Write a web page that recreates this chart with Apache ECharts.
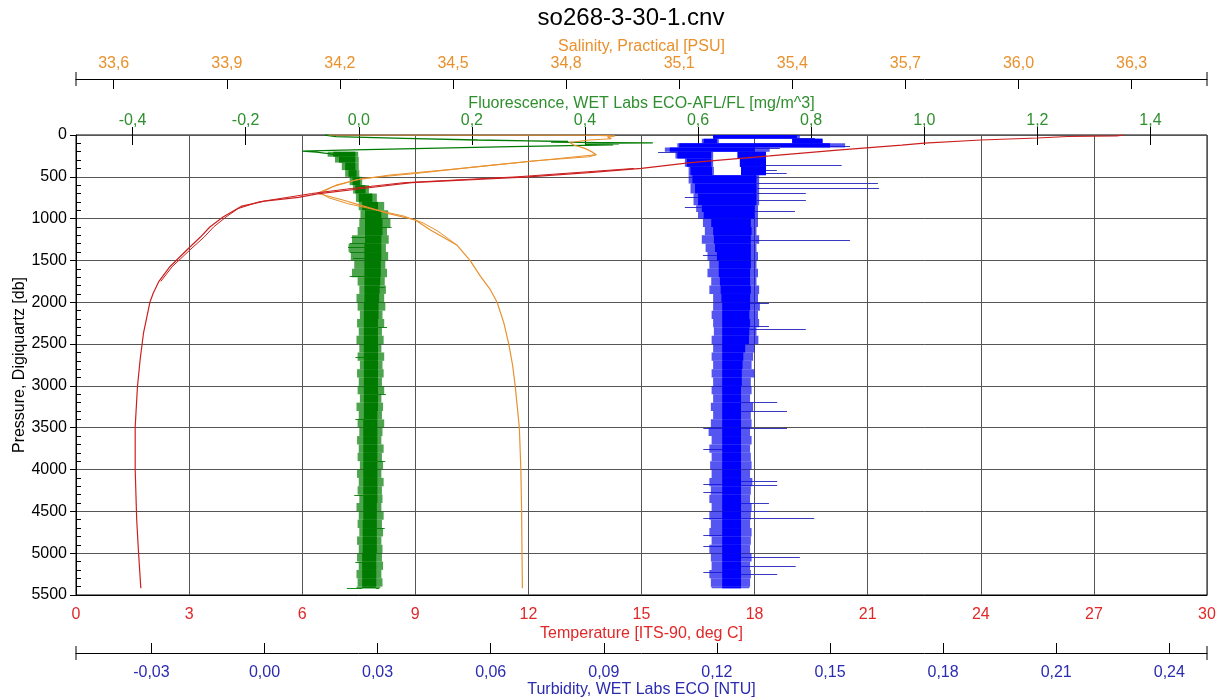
<!DOCTYPE html>
<html><head><meta charset="utf-8">
<script src="https://cdn.jsdelivr.net/npm/echarts@6/dist/echarts.min.js"></script>
<style>html,body{margin:0;padding:0;background:#fff}#c{width:1221px;height:698px}</style>
</head><body><div id="c"></div>
<script>
// ---------------- DATA ----------------
const titleText = 'so268-3-30-1.cnv';
const salTicks = [33.6, 33.9, 34.2, 34.5, 34.8, 35.1, 35.4, 35.7, 36.0, 36.3];
const fluorTicks = [-0.4, -0.2, 0.0, 0.2, 0.4, 0.6, 0.8, 1.0, 1.2, 1.4];
const turbTicks = [-0.03, 0.00, 0.03, 0.06, 0.09, 0.12, 0.15, 0.18, 0.21, 0.24];

// Temperature [deg C] vs pressure [db] (downcast and partial upcast)
const tempP = [0, 10, 18, 36, 60, 96, 120, 180, 250, 330, 400, 450, 500, 570, 640, 705, 745, 790, 850, 980, 1100, 1220, 1375, 1575, 1750, 1890, 2000, 2370, 2690, 3010, 3490, 4000, 4600, 5000, 5420];
const tempV = [27.8, 27.6, 26.3, 25.5, 24.0, 22.5, 21.9, 20.2, 18.4, 16.3, 15.0, 13.6, 12.0, 8.9, 7.6, 6.4, 5.9, 5.0, 4.4, 3.9, 3.55, 3.3, 2.94, 2.49, 2.2, 2.05, 1.96, 1.79, 1.70, 1.63, 1.57, 1.57, 1.61, 1.66, 1.72];
const tempUpP = [400, 500, 570, 640, 700, 750, 800, 880, 980, 1100, 1220, 1375, 1575, 1750];
const tempUpV = [14.8, 11.7, 8.7, 7.3, 6.25, 5.55, 4.85, 4.3, 3.98, 3.65, 3.40, 3.02, 2.55, 2.25];

// Salinity [PSU]
const salP = [0, 2, 10, 25, 45, 60, 90, 120, 160, 205, 235, 260, 311, 380, 460, 520, 600, 697, 780, 860, 940, 1016, 1136, 1315, 1500, 1690, 1850, 2000, 2250, 2500, 2750, 3000, 3500, 4000, 4500, 5000, 5420];
const salV = [34.17, 34.86, 34.93, 34.91, 34.92, 34.86, 34.81, 34.82, 34.85, 34.87, 34.88, 34.86, 34.71, 34.56, 34.40, 34.26, 34.19, 34.14, 34.21, 34.27, 34.33, 34.40, 34.44, 34.51, 34.545, 34.573, 34.599, 34.617, 34.635, 34.648, 34.658, 34.665, 34.676, 34.680, 34.682, 34.683, 34.684];
const salUpP = [235, 300, 400, 480, 540, 620, 697, 750, 820, 900, 970, 1050, 1150, 1315];
const salUpV = [34.88, 34.74, 34.52, 34.33, 34.24, 34.18, 34.15, 34.17, 34.22, 34.30, 34.37, 34.42, 34.46, 34.51];

// Fluorescence [mg/m^3]: near-surface trace
const fluorLineP = [0, 20, 40, 60, 70, 78, 85, 90, 95, 100, 105, 110, 118, 140, 160, 180, 192, 205, 225, 250];
const fluorLineV = [-0.06, -0.04, 0.08, 0.21, 0.30, 0.37, 0.34, 0.43, 0.52, 0.44, 0.46, 0.40, 0.45, 0.27, 0.12, -0.03, -0.10, -0.075, -0.05, -0.03];
// Fluorescence noisy band: row tops, outer low, core low, core high, outer high
const fluorRowP  = [200, 260, 330, 420, 500, 600, 700, 800, 900, 1000, 1100, 1200, 1300, 1400, 1500, 1600, 1700, 1800, 1900, 2000, 2100, 2200, 2300, 2400, 2500, 2600, 2700, 2800, 2900, 3000, 3100, 3200, 3300, 3400, 3500, 3600, 3700, 3800, 3900, 4000, 4100, 4200, 4300, 4400, 4500, 4600, 4700, 4800, 4900, 5000, 5100, 5200, 5300, 5400];
const fluorFrLo  = [-0.055, -0.042, -0.030, -0.024, -0.016, -0.010, -0.005, 0.000, 0.003, 0.001, -0.002, -0.012, -0.018, -0.014, -0.008, -0.012, -0.002, 0.001, -0.004, -0.002, 0.002, -0.003, 0.000, -0.004, 0.001, -0.002, 0.002, -0.003, 0.000, -0.002, 0.002, -0.004, 0.000, -0.002, 0.001, -0.003, 0.000, -0.002, 0.002, -0.003, 0.000, -0.002, 0.001, -0.004, 0.000, -0.002, 0.001, -0.003, 0.000, -0.003, 0.000, -0.004, -0.002, -0.004];
const fluorCoLo  = [-0.045, -0.035, -0.024, -0.018, -0.011, -0.006, 0.000, 0.006, 0.011, 0.011, 0.011, 0.011, 0.010, 0.010, 0.010, 0.010, 0.010, 0.010, 0.010, 0.009, 0.009, 0.009, 0.009, 0.009, 0.009, 0.009, 0.009, 0.009, 0.009, 0.009, 0.009, 0.009, 0.009, 0.008, 0.008, 0.008, 0.008, 0.008, 0.008, 0.008, 0.008, 0.008, 0.008, 0.008, 0.008, 0.007, 0.007, 0.007, 0.007, 0.006, 0.006, 0.006, 0.006, 0.006];
const fluorCoHi  = [-0.006, -0.006, -0.006, -0.004, 0.002, 0.012, 0.024, 0.034, 0.040, 0.042, 0.042, 0.040, 0.040, 0.040, 0.039, 0.039, 0.038, 0.037, 0.036, 0.035, 0.035, 0.034, 0.034, 0.034, 0.034, 0.034, 0.034, 0.034, 0.034, 0.034, 0.034, 0.034, 0.033, 0.033, 0.033, 0.033, 0.033, 0.033, 0.033, 0.033, 0.033, 0.033, 0.033, 0.032, 0.032, 0.032, 0.032, 0.032, 0.032, 0.031, 0.031, 0.031, 0.031, 0.030];
const fluorFrHi  = [-0.001, 0.000, 0.000, 0.001, 0.006, 0.018, 0.032, 0.045, 0.052, 0.056, 0.050, 0.053, 0.048, 0.052, 0.047, 0.050, 0.046, 0.048, 0.045, 0.047, 0.042, 0.045, 0.041, 0.044, 0.040, 0.045, 0.042, 0.044, 0.041, 0.045, 0.040, 0.043, 0.041, 0.045, 0.042, 0.040, 0.044, 0.041, 0.043, 0.040, 0.044, 0.041, 0.042, 0.040, 0.044, 0.041, 0.043, 0.040, 0.042, 0.041, 0.043, 0.040, 0.042, 0.038];
const fluorEndP = 5420;
// Fluorescence spikes: pressure, from, to
const fluorSpikeP    = [1096, 1215, 1296, 1335, 1395, 1475, 1682, 1813, 2300, 2650, 3100, 3400, 3900, 4300, 4700, 5100, 5415, 5415];
const fluorSpikeFrom = [0.040, 0.012, 0.012, 0.012, 0.012, 0.012, 0.012, 0.036, 0.034, 0.010, 0.034, 0.009, 0.033, 0.008, 0.032, 0.007, 0.006, 0.030];
const fluorSpikeTo   = [0.058, -0.013, -0.016, -0.019, -0.016, -0.010, -0.016, 0.046, 0.050, -0.006, 0.048, -0.006, 0.047, -0.008, 0.046, -0.006, -0.021, 0.036];

// Turbidity [NTU] band: row tops, outer low, core low, core high, outer high
const turbRowP  = [0, 45, 100, 150, 200, 280, 380, 480, 580, 700, 840, 920, 1000, 1100, 1200, 1300, 1400, 1500, 1600, 1700, 1800, 1900, 2000, 2100, 2200, 2300, 2400, 2500, 2600, 2700, 2800, 2900, 3000, 3100, 3200, 3300, 3400, 3500, 3600, 3700, 3800, 3900, 4000, 4100, 4200, 4300, 4400, 4500, 4600, 4700, 4800, 4900, 5000, 5100, 5200, 5300, 5400];
const turbFrLo  = [0.1190, 0.1160, 0.1095, 0.1062, 0.1090, 0.1115, 0.1125, 0.1125, 0.1130, 0.1138, 0.1145, 0.1150, 0.1163, 0.1168, 0.1160, 0.1170, 0.1175, 0.1180, 0.1175, 0.1185, 0.1180, 0.1190, 0.1190, 0.1186, 0.1190, 0.1192, 0.1186, 0.1190, 0.1186, 0.1190, 0.1186, 0.1190, 0.1186, 0.1190, 0.1184, 0.1190, 0.1184, 0.1178, 0.1186, 0.1180, 0.1186, 0.1182, 0.1186, 0.1180, 0.1184, 0.1180, 0.1186, 0.1180, 0.1184, 0.1180, 0.1186, 0.1180, 0.1184, 0.1186, 0.1180, 0.1184, 0.1186];
const turbCoLo  = [0.1190, 0.1165, 0.1100, 0.1075, 0.1095, 0.1120, 0.1130, 0.1135, 0.1142, 0.1150, 0.1160, 0.1165, 0.1185, 0.1190, 0.1192, 0.1195, 0.1200, 0.1205, 0.1205, 0.1208, 0.1210, 0.1212, 0.1214, 0.1214, 0.1214, 0.1214, 0.1214, 0.1214, 0.1214, 0.1214, 0.1214, 0.1214, 0.1214, 0.1214, 0.1214, 0.1214, 0.1214, 0.1214, 0.1214, 0.1214, 0.1214, 0.1214, 0.1214, 0.1214, 0.1214, 0.1214, 0.1214, 0.1214, 0.1214, 0.1214, 0.1214, 0.1214, 0.1214, 0.1214, 0.1214, 0.1214, 0.1214];
const turbCoHi  = [0.1412, 0.1200, 0.1500, 0.1300, 0.1185, 0.1185, 0.1187, 0.1305, 0.1305, 0.1305, 0.1300, 0.1300, 0.1290, 0.1292, 0.1290, 0.1290, 0.1290, 0.1290, 0.1288, 0.1288, 0.1290, 0.1288, 0.1288, 0.1286, 0.1288, 0.1286, 0.1285, 0.1275, 0.1270, 0.1268, 0.1266, 0.1266, 0.1264, 0.1264, 0.1264, 0.1264, 0.1264, 0.1264, 0.1264, 0.1264, 0.1264, 0.1264, 0.1264, 0.1264, 0.1264, 0.1264, 0.1264, 0.1264, 0.1264, 0.1264, 0.1264, 0.1264, 0.1264, 0.1264, 0.1264, 0.1264, 0.1264];
const turbFrHi  = [0.1420, 0.1205, 0.1540, 0.1340, 0.1190, 0.1190, 0.1192, 0.1312, 0.1312, 0.1312, 0.1309, 0.1309, 0.1309, 0.1305, 0.1312, 0.1305, 0.1309, 0.1305, 0.1309, 0.1305, 0.1312, 0.1309, 0.1314, 0.1309, 0.1312, 0.1305, 0.1310, 0.1300, 0.1296, 0.1292, 0.1300, 0.1290, 0.1292, 0.1288, 0.1296, 0.1290, 0.1292, 0.1288, 0.1292, 0.1288, 0.1290, 0.1292, 0.1288, 0.1294, 0.1290, 0.1288, 0.1292, 0.1290, 0.1288, 0.1292, 0.1290, 0.1288, 0.1292, 0.1288, 0.1290, 0.1288, 0.1286];
const turbEndP = 5420;
// Second (right) branch of the near-surface turbidity loop: top, bottom, low, high
const turbLoopP0 = [45, 200, 280, 380];
const turbLoopP1 = [100, 280, 380, 480];
const turbLoopLo = [0.1400, 0.1255, 0.1261, 0.1264];
const turbLoopHi = [0.1480, 0.1330, 0.1330, 0.1330];
// Turbidity spikes: pressure, from, to
const turbSpikeP    = [30, 130, 160, 199, 359, 418, 458, 578, 638, 690, 737, 777, 857, 905, 1255, 1435, 2013, 2284, 2325, 3190, 3298, 3500, 3507, 3755, 4140, 4170, 4180, 4270, 4400, 4490, 4580, 4583, 4785, 4910, 5040, 5150, 5220, 5245];
const turbSpikeFrom = [0.1412, 0.1500, 0.1300, 0.1095, 0.1330, 0.1330, 0.1330, 0.1305, 0.1305, 0.1305, 0.1150, 0.1305, 0.1160, 0.1300, 0.1290, 0.1200, 0.1288, 0.1286, 0.1286, 0.1264, 0.1264, 0.1264, 0.1214, 0.1214, 0.1264, 0.1214, 0.1264, 0.1214, 0.1264, 0.1264, 0.1214, 0.1264, 0.1214, 0.1214, 0.1264, 0.1264, 0.1214, 0.1264];
const turbSpikeTo   = [0.1460, 0.1553, 0.1367, 0.1044, 0.1531, 0.1359, 0.1385, 0.1627, 0.1630, 0.1436, 0.1115, 0.1436, 0.1115, 0.1407, 0.1553, 0.1163, 0.1338, 0.1338, 0.1436, 0.1360, 0.1386, 0.1386, 0.1164, 0.1164, 0.1360, 0.1164, 0.1360, 0.1164, 0.1338, 0.1338, 0.1164, 0.1458, 0.1164, 0.1164, 0.1420, 0.1409, 0.1164, 0.1360];

// ---------------- CHART ----------------
const FONT = "'Liberation Sans', Arial, sans-serif";
const C_TEMP = '#e02828', C_TEMP_LINE = '#cc1f1f';
const C_SAL = '#e8912d';
const C_FLU = '#2f8f2f', C_FLU_LINE = '#007a00';
const C_TURB = '#2b2bb0';
const comma = d => v => v.toFixed(d).replace('.', ',');

function pairs(P, V) { return P.map((p, i) => [V[i], p]); }
function rows(P, a, b, c, d, end) {
  return P.map((p, i) => [p, i < P.length - 1 ? P[i + 1] : end, a[i], b[i], c[i], d[i]]);
}
function bandRender(core, fringe) {
  return function (params, api) {
    const p0 = api.value(0), p1 = api.value(1);
    const a = api.coord([api.value(2), p0]), b = api.coord([api.value(5), p1]);
    const c = api.coord([api.value(3), p0]), d = api.coord([api.value(4), p1]);
    return { type: 'group', children: [
      { type: 'rect', shape: { x: a[0], y: a[1], width: b[0] - a[0], height: b[1] - a[1] }, style: { fill: fringe } },
      { type: 'rect', shape: { x: c[0], y: c[1], width: d[0] - c[0], height: d[1] - c[1] }, style: { fill: core } }
    ] };
  };
}
function spikeRender(color) {
  return function (params, api) {
    const a = api.coord([api.value(1), api.value(0)]), b = api.coord([api.value(2), api.value(0)]);
    const y = Math.round(a[1]) + 0.5;
    return { type: 'line', shape: { x1: a[0], y1: y, x2: b[0], y2: y }, style: { stroke: color, lineWidth: 1 } };
  };
}

const turbRows = rows(turbRowP, turbFrLo, turbCoLo, turbCoHi, turbFrHi, turbEndP);
const turbLoopRows = turbLoopP0.map((p, i) => [p, turbLoopP1[i], turbLoopLo[i], turbLoopLo[i], turbLoopHi[i], turbLoopHi[i]]);
const turbSpikes = turbSpikeP.map((p, i) => [p, turbSpikeFrom[i], turbSpikeTo[i]]);
const fluorRows = rows(fluorRowP, fluorFrLo, fluorCoLo, fluorCoHi, fluorFrHi, fluorEndP);
const fluorSpikes = fluorSpikeP.map((p, i) => [p, fluorSpikeFrom[i], fluorSpikeTo[i]]);

const FS = 16;
const nameStyle = c => ({ color: c, fontSize: FS, fontFamily: FONT });
const labelStyle = c => ({ color: c, fontSize: FS, fontFamily: FONT });

const option = {
  animation: false,
  backgroundColor: '#fff',
  title: { text: titleText, left: 626, top: 1, textAlign: 'center',
    textStyle: { color: '#000', fontSize: 24, fontWeight: 'normal', fontFamily: FONT } },
  grid: { left: 76, right: 14, top: 135, bottom: 103, show: true, borderColor: '#000', borderWidth: 1,
    backgroundColor: 'transparent', containLabel: false, outerBoundsMode: 'none' },
  xAxis: [
    { type: 'value', position: 'bottom', min: 0, max: 30, interval: 3,
      axisLine: { show: true, onZero: false, lineStyle: { color: '#000' } }, axisTick: { show: false },
      axisLabel: Object.assign(labelStyle(C_TEMP), { margin: 12 }),
      splitLine: { show: true, lineStyle: { color: '#555', width: 1 } },
      name: 'Temperature [ITS-90, deg C]', nameLocation: 'middle', nameGap: 31, nameMoveOverlap: false, nameTextStyle: nameStyle(C_TEMP) },
    { type: 'value', position: 'bottom', offset: 58, min: -0.05, max: 0.25,
      axisLine: { show: true, onZero: false, symbol: ['rect', 'rect'], symbolSize: [14, 1], lineStyle: { color: '#000' } },
      axisTick: { show: true, inside: true, length: 10, customValues: turbTicks, lineStyle: { color: '#000' } },
      axisLabel: Object.assign(labelStyle(C_TURB), { margin: 12, customValues: turbTicks, formatter: comma(2) }),
      splitLine: { show: false },
      name: 'Turbidity, WET Labs ECO [NTU]', nameLocation: 'middle', nameGap: 29, nameMoveOverlap: false, nameTextStyle: nameStyle(C_TURB) },
    { type: 'value', position: 'top', offset: 56, min: 33.5, max: 36.5,
      axisLine: { show: true, onZero: false, symbol: ['rect', 'rect'], symbolSize: [14, 1], lineStyle: { color: '#000' } },
      axisTick: { show: true, inside: true, length: 10, customValues: salTicks, lineStyle: { color: '#000' } },
      axisLabel: Object.assign(labelStyle(C_SAL), { margin: 7, customValues: salTicks, formatter: comma(1) }),
      splitLine: { show: false },
      name: 'Salinity, Practical [PSU]', nameLocation: 'middle', nameGap: 24, nameMoveOverlap: false, nameTextStyle: nameStyle(C_SAL) },
    { type: 'value', position: 'top', offset: 8, min: -0.5, max: 1.5,
      axisLine: { show: false, onZero: false },
      axisTick: { show: true, inside: true, length: 18, customValues: fluorTicks, lineStyle: { color: '#000' } },
      axisLabel: Object.assign(labelStyle(C_FLU), { margin: -2, customValues: fluorTicks, formatter: comma(1) }),
      splitLine: { show: false },
      name: 'Fluorescence, WET Labs ECO-AFL/FL [mg/m^3]', nameLocation: 'middle', nameGap: 15, nameMoveOverlap: false, nameTextStyle: nameStyle(C_FLU) }
  ],
  yAxis: [
    { type: 'value', inverse: true, min: 0, max: 5500, interval: 500, position: 'left',
      axisLine: { show: true, onZero: false, lineStyle: { color: '#000' } },
      axisTick: { show: true, length: 6, lineStyle: { color: '#000' } },
      axisLabel: Object.assign(labelStyle('#000'), { margin: 9, formatter: v => String(v) }),
      splitLine: { show: true, lineStyle: { color: '#555', width: 1 } },
      name: 'Pressure, Digiquartz [db]', nameLocation: 'middle', nameGap: 48, nameRotate: 90, nameMoveOverlap: false, nameTextStyle: nameStyle('#000') },
    { type: 'value', inverse: true, min: 0, max: 5500, interval: 500, position: 'left',
      axisLine: { show: false, onZero: false }, axisTick: { show: false, inside: true }, axisLabel: { show: false },
      splitLine: { show: false },
      minorTick: { show: true, splitNumber: 5, length: 5, lineStyle: { color: '#000' } } }
  ],
  series: [
    { type: 'custom', name: 'turbSpikes', xAxisIndex: 1, yAxisIndex: 0, data: turbSpikes, renderItem: spikeRender('#3a3ac0'), encode: { x: [1, 2], y: [0] }, silent: true },
    { type: 'custom', name: 'turb', xAxisIndex: 1, yAxisIndex: 0, data: turbRows, renderItem: bandRender('#0000ff', 'rgba(20,20,235,0.72)'), encode: { x: [2, 3, 4, 5], y: [0, 1] }, silent: true },
    { type: 'custom', name: 'turbLoop', xAxisIndex: 1, yAxisIndex: 0, data: turbLoopRows, renderItem: bandRender('#0000ff', '#0000ff'), encode: { x: [2, 3, 4, 5], y: [0, 1] }, silent: true },
    { type: 'custom', name: 'fluorSpikes', xAxisIndex: 3, yAxisIndex: 0, data: fluorSpikes, renderItem: spikeRender('#1a8a1a'), encode: { x: [1, 2], y: [0] }, silent: true },
    { type: 'custom', name: 'fluor', xAxisIndex: 3, yAxisIndex: 0, data: fluorRows, renderItem: bandRender('#007a00', 'rgba(0,125,0,0.7)'), encode: { x: [2, 3, 4, 5], y: [0, 1] }, silent: true },
    { type: 'line', name: 'fluorLine', xAxisIndex: 3, yAxisIndex: 0, data: pairs(fluorLineP, fluorLineV), showSymbol: false, lineStyle: { color: C_FLU_LINE, width: 1.3 }, silent: true },
    { type: 'line', name: 'salUp', xAxisIndex: 2, yAxisIndex: 0, data: pairs(salUpP, salUpV), showSymbol: false, lineStyle: { color: C_SAL, width: 1 }, silent: true },
    { type: 'line', name: 'sal', xAxisIndex: 2, yAxisIndex: 0, data: pairs(salP, salV), showSymbol: false, lineStyle: { color: C_SAL, width: 1.2 }, silent: true },
    { type: 'line', name: 'tempUp', xAxisIndex: 0, yAxisIndex: 0, data: pairs(tempUpP, tempUpV), showSymbol: false, lineStyle: { color: C_TEMP_LINE, width: 1 }, silent: true },
    { type: 'line', name: 'temp', xAxisIndex: 0, yAxisIndex: 0, data: pairs(tempP, tempV), showSymbol: false, lineStyle: { color: C_TEMP_LINE, width: 1.2 }, silent: true }
  ]
};
const chart = echarts.init(document.getElementById('c'));
chart.setOption(option);
</script></body></html>
